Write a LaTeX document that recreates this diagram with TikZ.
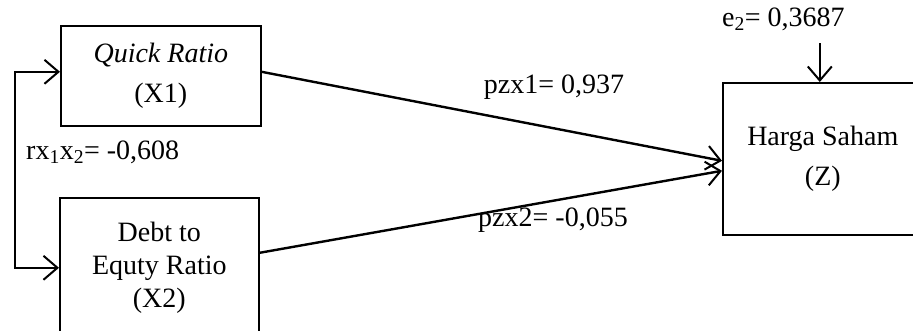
\documentclass[tikz,border=0pt]{standalone}
\usepackage{fontspec}
\setmainfont{Liberation Serif}
\usetikzlibrary{arrows.meta,positioning,calc}
\begin{document}
\begin{tikzpicture}[x=1pt,y=-1pt,
  box/.style={draw,line width=1.6pt,inner sep=0pt,align=center,anchor=north west},
  lbl/.style={inner sep=0pt,font=\fontsize{28}{34}\selectfont},
  arr/.style={line width=2.4pt,-{Straight Barb[length=14pt,width=24pt,line width=2pt]}},
  arrb/.style={line width=1.8pt,{Straight Barb[length=14pt,width=24pt,line width=2pt]}-{Straight Barb[length=14pt,width=24pt,line width=2pt]}}]
\useasboundingbox (0,0) rectangle (913,330);
\node[box,minimum width=200pt,minimum height=100pt,font=\fontsize{28}{40}\selectfont] (X1) at (60,25) {\textit{Quick Ratio}\\(X1)};
\node[box,minimum width=199pt,minimum height=140pt,font=\fontsize{28}{33}\selectfont] (X2) at (59,197) {Debt to\\Equty Ratio\\(X2)};
\node[box,minimum width=200pt,minimum height=152pt,font=\fontsize{28}{40}\selectfont] (Z) at (722,82) {Harga Saham\\(Z)};
\node[lbl,anchor=west] (r) at (26,152) {rx\textsubscript{1}x\textsubscript{2}= -0,608};
\node[lbl] (p1) at (554,87) {pzx1= 0,937};
\node[lbl] (p2) at (553,220) {pzx2= -0,055};
\node[lbl,anchor=west] (e) at (722,19) {e\textsubscript{2}= 0,3687};
\coordinate (et) at ($(Z.north)+(-3,-39)$);
\draw[arr,line width=1.8pt] (et) -- ($(Z.north)+(-3,0)$);
\draw[arr] ($(X1.east)+(0,-4)$) -- ($(Z.west)+(0,2)$);
\draw[arr] ($(X2.east)+(0,-15)$) -- ($(Z.west)+(0,12)$);
\draw[arrb] ($(X1.west)+(0,-4)$) -- ++(-45,0) |- (X2.west);
\end{tikzpicture}
\end{document}
